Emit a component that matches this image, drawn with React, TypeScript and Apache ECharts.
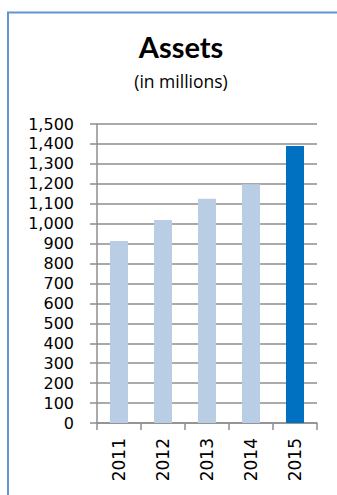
import React, { useEffect, useRef } from "react";
import * as echarts from "echarts";

const years = ["2011", "2012", "2013", "2014", "2015"];
const assets = [913, 1018, 1125, 1198, 1390];
const highlightYear = "2015";
const titleText = "Assets";
const subtitleText = "(in millions)";

export default function App() {
  const ref = useRef<HTMLDivElement>(null);

  useEffect(() => {
    if (!ref.current) return;
    const chart = echarts.init(ref.current, null, { renderer: "svg" });
    const gray = "#8e8e8e";
    chart.setOption({
      animation: false,
      backgroundColor: "#ffffff",
      title: [
        {
          text: titleText,
          left: 176,
          top: 27,
          textAlign: "center",
          textStyle: { fontFamily: "Lato", fontWeight: "bold", fontSize: 29, color: "#000" },
        },
        {
          text: subtitleText,
          left: 176,
          top: 67,
          textAlign: "center",
          textStyle: { fontFamily: "Open Sans", fontWeight: "normal", fontSize: 17.5, color: "#000" },
        },
      ],
      graphic: [
        {
          type: "rect",
          shape: { x: 8, y: 12.5, width: 400, height: 600 },
          style: { fill: "none", stroke: "#6393d3", lineWidth: 2 },
          silent: true,
        },
      ],
      grid: { left: 97, right: 20, top: 124, bottom: 72, containLabel: false },
      xAxis: {
        type: "category",
        data: years,
        axisLine: { show: true, lineStyle: { color: gray, width: 1.5 } },
        axisTick: { show: true, length: 7, alignWithLabel: false, lineStyle: { color: gray, width: 1.5 } },
        axisLabel: {
          rotate: 90,
          margin: 15,
          fontFamily: "DejaVu Sans",
          fontSize: 17,
          color: "#000",
        },
        splitLine: { show: false },
      },
      yAxis: {
        type: "value",
        min: 0,
        max: 1500,
        interval: 100,
        axisLine: { show: true, lineStyle: { color: gray, width: 1.5 } },
        axisTick: { show: true, length: 7, lineStyle: { color: gray, width: 1.5 } },
        axisLabel: {
          margin: 23,
          fontFamily: "DejaVu Sans",
          fontSize: 16,
          color: "#000",
          formatter: (v: number) => v.toLocaleString("en-US"),
        },
        splitLine: { show: true, lineStyle: { color: gray, width: 1.5 } },
      },
      series: [
        {
          type: "bar",
          barWidth: 18,
          data: assets.map((v, i) => ({
            value: v,
            itemStyle: { color: years[i] === highlightYear ? "#0070c0" : "#b9cde5" },
          })),
        },
      ],
    });
    return () => chart.dispose();
  }, []);

  return (
    <div
      ref={ref}
      style={{ position: "fixed", left: 0, top: 0, width: 337, height: 495 }}
    />
  );
}
